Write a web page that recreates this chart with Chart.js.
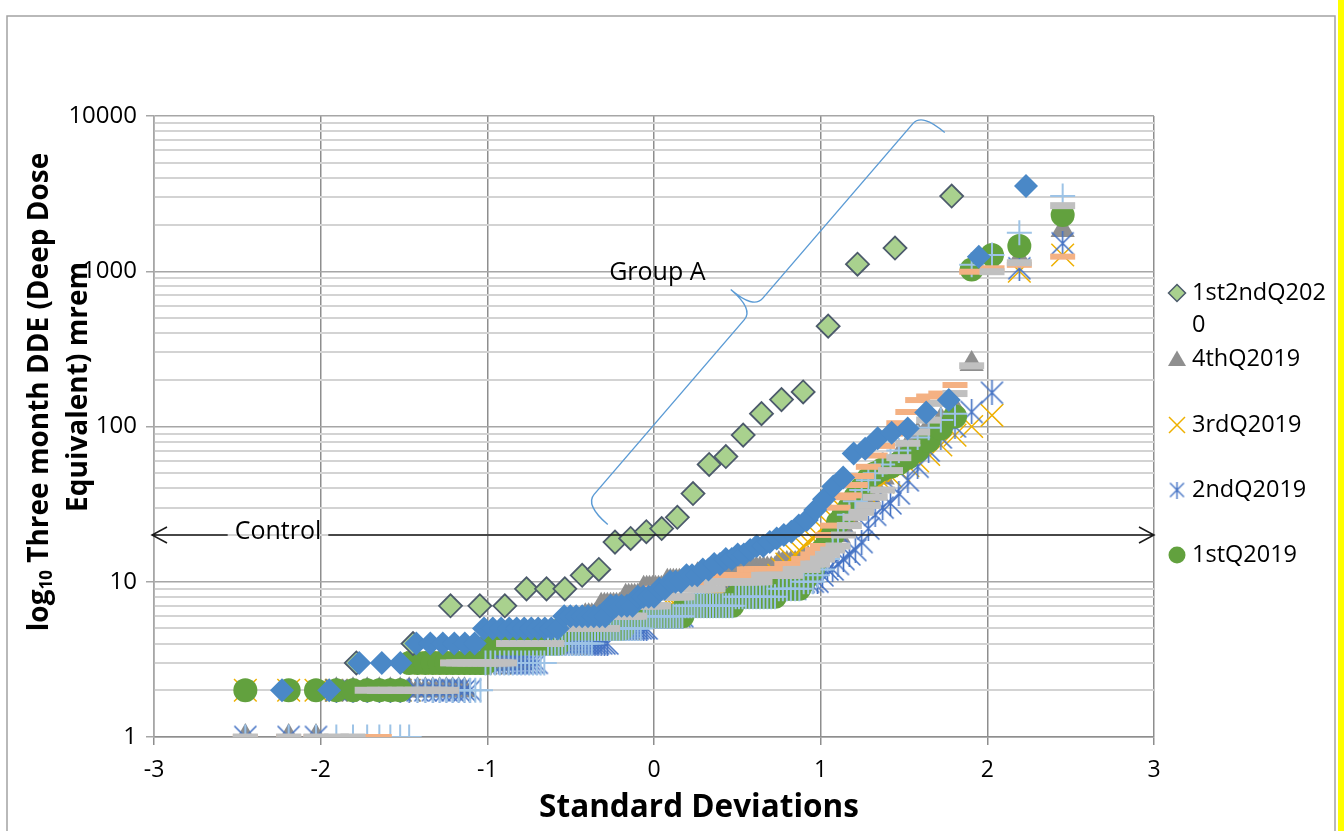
<!DOCTYPE html>
<html><head><meta charset="utf-8">
<script src="https://cdn.jsdelivr.net/npm/chart.js@4.4.1/dist/chart.umd.min.js"></script>
<style>html,body{margin:0;padding:0;background:#fff;overflow:hidden}canvas{display:block}</style>
</head><body>
<canvas id="c" width="1344" height="831"></canvas>
<script>
// ---------- DATA ----------
// normal scores (standard deviations) for the 140-point quarters
const Z140 = [
-2.452,-2.192,-2.028,-1.906,-1.806,-1.721,-1.648,-1.582,-1.523,-1.469,
-1.419,-1.372,-1.327,-1.286,-1.246,-1.208,-1.172,-1.137,-1.104,-1.072,
-1.041,-1.011,-0.981,-0.953,-0.925,-0.898,-0.872,-0.847,-0.821,-0.797,
-0.773,-0.749,-0.726,-0.703,-0.680,-0.658,-0.636,-0.614,-0.593,-0.572,
-0.551,-0.531,-0.510,-0.490,-0.470,-0.451,-0.431,-0.412,-0.392,-0.373,
-0.354,-0.336,-0.317,-0.298,-0.280,-0.261,-0.243,-0.225,-0.207,-0.188,
-0.170,-0.152,-0.134,-0.116,-0.098,-0.080,-0.062,-0.044,-0.027,-0.009,
0.009,0.027,0.044,0.062,0.080,0.098,0.116,0.134,0.152,0.170,
0.188,0.207,0.225,0.243,0.261,0.280,0.298,0.317,0.336,0.354,
0.373,0.392,0.412,0.431,0.451,0.470,0.490,0.510,0.531,0.551,
0.572,0.593,0.614,0.636,0.658,0.680,0.703,0.726,0.749,0.773,
0.797,0.821,0.847,0.872,0.898,0.925,0.953,0.981,1.011,1.041,
1.072,1.104,1.137,1.172,1.208,1.246,1.286,1.327,1.372,1.419,
1.469,1.523,1.582,1.648,1.721,1.806,1.906,2.028,2.192,2.452];

// normal scores for the 77-point series (blue diamonds)
const Z77 = [
-2.232,-1.949,-1.769,-1.633,-1.522,-1.426,-1.342,-1.267,-1.198,-1.135,
-1.076,-1.020,-0.967,-0.917,-0.869,-0.824,-0.779,-0.736,-0.695,-0.655,
-0.616,-0.577,-0.539,-0.502,-0.467,-0.431,-0.396,-0.361,-0.327,-0.293,
-0.260,-0.228,-0.195,-0.162,-0.129,-0.097,-0.064,-0.032,0.000,0.032,
0.064,0.097,0.129,0.162,0.195,0.228,0.260,0.293,0.327,0.361,
0.396,0.431,0.467,0.502,0.539,0.577,0.616,0.655,0.695,0.736,
0.779,0.824,0.869,0.917,0.967,1.020,1.076,1.135,1.198,1.267,
1.342,1.426,1.522,1.633,1.769,1.949,2.232];

// normal scores for 1st2ndQ2020 (26 points)
const Z26 = [-1.786,-1.446,-1.221,-1.045,-0.895,-0.765,-0.645,-0.535,-0.431,-0.331,
-0.234,-0.140,-0.046,0.046,0.140,0.234,0.331,0.431,0.535,0.645,
0.765,0.895,1.045,1.221,1.446,1.786];

const vals3rdQ2020 = [
2,2,3,3,3,4,4,4,4,4,
4,5,5,5,5,5,5,5,5,5,
5,5,6,6,6,6,6,6,6,6,
7,7,7,7,7,8,8,8,8,9,
9,10,10,10,11,11,11,12,12,13,
13,14,14,15,15,16,17,17,18,19,
20,21,23,25,29,34,41,47,67,72,
84,91,97,123,148,1240,3540];

const vals1st2ndQ2020 = [3,4,7,7,7,9,9,9,11,12,18,19,21,22,26,37,57,64,88,121,149,167,443,1110,1410,3050];

const vals1stQ2019 = [
2,2,2,2,2,2,2,2,2,3,
3,3,3,3,3,3,3,3,3,3,
3,3,4,4,4,4,4,4,4,4,
4,4,4,4,4,4,4,4,4,4,
5,5,5,5,5,5,5,5,5,5,
5,5,5,5,5,5,5,5,5,5,
6,6,6,6,6,6,6,6,6,6,
6,6,6,6,6,6,6,6,6,6,
7,7,7,7,7,7,7,7,7,7,
7,7,7,7,7,7,8,8,8,8,
8,8,8,8,8,8,8,8,9,9,
9,9,9,9,10,11,12,14,16,18,
20,24,27,30,35,40,46,50,53,55,
58,63,70,81,97,116,1026,1273,1455,2303];

const vals2ndQ2019 = [
1,1,1,2,2,2,2,2,2,2,
2,2,2,2,2,2,2,2,2,3,
3,3,3,3,3,3,3,3,3,3,
3,3,3,3,4,4,4,4,4,4,
4,4,4,4,4,4,4,4,4,4,
4,4,4,4,4,5,5,5,5,5,
5,5,5,5,5,5,5,5,6,6,
6,6,6,6,6,6,6,6,6,6,
7,7,7,7,7,7,7,7,7,7,
7,7,7,7,8,8,8,8,8,8,
8,8,8,8,8,9,9,9,9,9,
9,9,9,10,10,10,10,10,11,12,
12,13,14,15,16,18,22,27,30,32,
37,45,55,70,85,100,124,165,1045,1514];

const vals3rdQ2019 = [
2,2,2,2,2,2,2,2,2,2,
3,3,3,3,3,3,3,3,3,3,
3,3,3,3,3,4,4,4,4,4,
4,4,4,4,4,4,4,4,4,4,
4,4,4,4,4,5,5,5,5,5,
5,5,5,5,5,5,5,5,5,5,
5,5,6,6,6,6,6,6,6,6,
6,6,6,6,6,7,7,7,7,7,
7,7,7,7,7,7,7,7,8,8,
8,8,8,8,8,8,8,8,9,9,
9,9,9,9,10,10,10,10,11,12,
13,14,15,16,17,18,19,20,22,24,
26,28,29,30,31,33,36,40,44,48,
52,56,60,66,76,88,100,118,1000,1273];

const vals4thQ2019 = [
1,1,1,2,2,2,2,2,2,2,
2,2,2,2,2,2,2,2,3,3,
3,3,3,3,3,3,3,3,3,3,
4,4,4,4,4,4,4,4,4,4,
5,5,5,5,5,5,5,6,6,6,
6,6,7,7,7,7,7,7,7,7,
8,8,8,8,8,8,9,9,9,9,
9,9,9,9,10,10,10,10,10,10,
10,10,10,10,11,11,11,11,11,11,
11,11,11,11,11,11,11,11,12,12,
12,12,12,12,12,12,12,12,13,13,
13,13,13,13,14,14,14,14,16,16,
18,20,22,25,28,32,36,41,47,55,
64,75,88,100,110,130,253,1050,1200,1845];

const vals4thQ2018 = [
1,1,1,1,1,1,1,1,1,1,
2,2,2,2,2,2,2,2,2,2,
2,3,3,3,3,3,3,3,3,3,
3,3,3,3,3,3,4,4,4,4,
4,4,4,4,4,4,4,4,4,4,
5,5,5,5,5,5,5,5,5,5,
5,5,5,5,5,5,6,6,6,6,
6,6,6,6,6,6,6,6,6,6,
7,7,7,7,7,7,7,7,7,7,
7,7,7,7,7,7,8,8,8,8,
8,8,8,8,8,8,8,8,9,9,
9,9,9,9,10,10,10,11,12,14,
17,20,23,27,33,39,45,50,57,64,
70,76,85,98,110,121,1100,1273,1771,3054];

const vals3rdQ2018 = [
1,1,1,1,1,1,1,2,2,2,
2,2,2,2,2,3,3,3,3,3,
3,3,3,3,3,3,4,4,4,4,
4,4,4,4,4,4,4,4,5,5,
5,5,5,5,5,5,5,5,5,5,
5,5,5,5,5,6,6,6,6,6,
6,6,7,7,7,7,8,8,8,8,
9,9,9,9,9,10,10,10,10,10,
10,10,10,10,10,10,10,10,11,11,
11,11,11,11,11,11,11,11,11,11,
12,12,12,12,12,12,12,12,12,12,
13,13,13,13,14,14,15,16,17,20,
23,30,35,36,42,48,55,65,75,90,
105,124,148,156,163,185,993,1045,1100,1242];

const vals2ndQ2018 = [
1,1,1,1,1,2,2,2,2,2,
2,2,2,2,2,3,3,3,3,3,
3,3,3,3,3,3,4,4,4,4,
4,4,4,4,4,4,4,4,5,5,
5,5,5,5,5,5,5,5,5,5,
5,5,5,5,5,6,6,6,6,6,
6,6,6,6,7,7,7,7,7,7,
7,7,8,8,8,8,8,8,8,8,
9,9,9,9,9,9,9,9,9,9,
10,10,10,10,10,10,10,10,10,10,
10,10,10,10,11,11,11,11,11,11,
11,11,12,12,12,12,13,13,14,15,
16,17,20,23,26,28,31,35,39,52,
63,78,92,110,141,163,246,993,1135,2645];

const legendNames = ['1st2ndQ2020','4thQ2019','3rdQ2019','2ndQ2019','1stQ2019'];
const xTickValues = [-3,-2,-1,0,1,2,3];
const yTickValues = [1,2,3,4,5,6,7,8,9,10,20,30,40,50,60,70,80,90,100,200,300,400,500,600,700,800,900,1000,2000,3000,4000,5000,6000,7000,8000,9000,10000];

// annotations (data coordinates)
const controlLevel = 20, controlFrom = -3, controlTo = 3, controlLabelX = -2.256;
const braceStart = {x: -0.414, y: 31.2}, braceEnd = {x: 1.608, y: 10450};
const groupLabel = {x: 0.02, y: 975};

// ---------- STYLE ----------
const C = {
  blueDia: '#4A88C7', lgDia: '#A9D18E', lgDiaBorder: '#4C5A6B', green: '#62A13E',
  tri: '#8F8F8F', xGold: '#EEB000', star: '#4472C4', plus: '#9DC3E6',
  salmon: '#F4B183', gray: '#C0C0C0'
};
const FONT = '"Open Sans", "Liberation Sans", sans-serif';

function makeStar(size, color, lw) {
  const c = document.createElement('canvas'); c.width = size; c.height = size;
  const g = c.getContext('2d'); g.strokeStyle = color; g.lineWidth = lw;
  const m = 1.5, s = size;
  g.beginPath();
  g.moveTo(m, m); g.lineTo(s - m, s - m);
  g.moveTo(s - m, m); g.lineTo(m, s - m);
  g.moveTo(s / 2, 0); g.lineTo(s / 2, s);
  g.stroke();
  return c;
}
const starBig = makeStar(25, C.star, 1.6);
const starSmall = makeStar(17, C.star, 1.4);

const pts = (xs, ys) => xs.map((x, i) => ({x, y: ys[i]}));

// dataset order = drawing order (first is on top)
const datasets = [
  {label: '3rdQ2020', data: pts(Z77, vals3rdQ2020), pointStyle: 'rectRot', pointRadius: 12,
   backgroundColor: C.blueDia, borderColor: C.blueDia, pointBorderWidth: 0},
  {label: '1st2ndQ2020', data: pts(Z26, vals1st2ndQ2020), pointStyle: 'rectRot', pointRadius: 11.5,
   backgroundColor: C.lgDia, borderColor: C.lgDiaBorder, pointBorderWidth: 1.8},
  {label: '2ndQ2018', data: pts(Z140, vals2ndQ2018), pointStyle: 'line', pointRadius: 12.5,
   backgroundColor: C.gray, borderColor: C.gray, pointBorderWidth: 7},
  {label: '3rdQ2018', data: pts(Z140, vals3rdQ2018), pointStyle: 'line', pointRadius: 12.5,
   backgroundColor: C.salmon, borderColor: C.salmon, pointBorderWidth: 6},
  {label: '4thQ2018', data: pts(Z140, vals4thQ2018), pointStyle: 'cross', pointRadius: 12.5,
   backgroundColor: C.plus, borderColor: C.plus, pointBorderWidth: 2},
  {label: '1stQ2019', data: pts(Z140, vals1stQ2019), pointStyle: 'circle', pointRadius: 12,
   backgroundColor: C.green, borderColor: C.green, pointBorderWidth: 0},
  {label: '2ndQ2019', data: pts(Z140, vals2ndQ2019), pointStyle: starBig, pointRadius: 12,
   backgroundColor: C.star, borderColor: C.star},
  {label: '3rdQ2019', data: pts(Z140, vals3rdQ2019), pointStyle: 'crossRot', pointRadius: 16,
   backgroundColor: C.xGold, borderColor: C.xGold, pointBorderWidth: 1.5},
  {label: '4thQ2019', data: pts(Z140, vals4thQ2019), pointStyle: 'triangle', pointRadius: 14,
   backgroundColor: C.tri, borderColor: C.tri, pointBorderWidth: 0}
];

const isMajor = v => Math.abs(Math.log10(v) - Math.round(Math.log10(v))) < 1e-9;

function drawLegendMarker(ctx, kind, x, y) {
  ctx.save();
  if (kind === 0) {
    ctx.beginPath(); ctx.moveTo(x - 8.5, y); ctx.lineTo(x, y - 8.5); ctx.lineTo(x + 8.5, y); ctx.lineTo(x, y + 8.5); ctx.closePath();
    ctx.fillStyle = C.lgDia; ctx.fill(); ctx.strokeStyle = C.lgDiaBorder; ctx.lineWidth = 1.5; ctx.stroke();
  } else if (kind === 1) {
    ctx.beginPath(); ctx.moveTo(x, y - 8.5); ctx.lineTo(x + 9, y + 7); ctx.lineTo(x - 9, y + 7); ctx.closePath();
    ctx.fillStyle = C.tri; ctx.fill();
  } else if (kind === 2) {
    ctx.beginPath(); ctx.moveTo(x - 8, y - 8); ctx.lineTo(x + 8, y + 8); ctx.moveTo(x + 8, y - 8); ctx.lineTo(x - 8, y + 8);
    ctx.strokeStyle = C.xGold; ctx.lineWidth = 1.5; ctx.stroke();
  } else if (kind === 3) {
    ctx.drawImage(starSmall, x - 8.5, y - 8.5);
  } else {
    ctx.beginPath(); ctx.arc(x, y, 8.5, 0, Math.PI * 2); ctx.fillStyle = C.green; ctx.fill();
  }
  ctx.restore();
}

function drawRotatedParts(ctx, cx, cy, parts) {
  ctx.save();
  ctx.translate(cx, cy); ctx.rotate(-Math.PI / 2);
  ctx.textBaseline = 'middle'; ctx.textAlign = 'left'; ctx.fillStyle = '#000';
  let total = 0;
  parts.forEach(p => { ctx.font = p.font; p.w = ctx.measureText(p.t).width; total += p.w; });
  let x = -total / 2;
  parts.forEach(p => { ctx.font = p.font; ctx.fillText(p.t, x, p.dy || 0); x += p.w; });
  ctx.restore();
}

const decor = {
  id: 'decor',
  beforeDraw(chart) {
    const ctx = chart.ctx;
    ctx.save();
    ctx.fillStyle = '#fff'; ctx.fillRect(0, 0, chart.width, chart.height);
    ctx.fillStyle = '#FFFF00'; ctx.fillRect(1338, 0, 6, chart.height);
    ctx.strokeStyle = '#A3A3A3'; ctx.lineWidth = 1.5;
    ctx.beginPath(); ctx.moveTo(7, chart.height); ctx.lineTo(7, 16); ctx.lineTo(1335, 16); ctx.lineTo(1335, chart.height); ctx.stroke();
    ctx.restore();
  },
  afterDatasetsDraw(chart) {
    const ctx = chart.ctx, xs = chart.scales.x, ys = chart.scales.y;
    ctx.save();
    // Control double arrow
    const yC = ys.getPixelForValue(controlLevel);
    const x0 = xs.getPixelForValue(controlFrom) - 2, x1 = xs.getPixelForValue(controlTo);
    ctx.font = '25px ' + FONT;
    const lw = ctx.measureText('Control').width;
    const lx = xs.getPixelForValue(controlLabelX);
    ctx.strokeStyle = '#1a1a1a'; ctx.lineWidth = 1.5;
    ctx.beginPath();
    ctx.moveTo(x0, yC); ctx.lineTo(lx - lw / 2 - 7, yC);
    ctx.moveTo(lx + lw / 2 + 7, yC); ctx.lineTo(x1, yC);
    ctx.moveTo(x0 + 15, yC - 8); ctx.lineTo(x0, yC); ctx.lineTo(x0 + 15, yC + 8);
    ctx.moveTo(x1 - 15, yC - 8); ctx.lineTo(x1, yC); ctx.lineTo(x1 - 15, yC + 8);
    ctx.stroke();
    ctx.fillStyle = '#000'; ctx.textAlign = 'center'; ctx.textBaseline = 'middle';
    ctx.fillText('Control', lx, yC - 3);

    // Group A brace
    const ax = xs.getPixelForValue(braceStart.x), ay = ys.getPixelForValue(braceStart.y);
    const bx = xs.getPixelForValue(braceEnd.x), by = ys.getPixelForValue(braceEnd.y);
    const L = Math.hypot(bx - ax, by - ay);
    const ux = (bx - ax) / L, uy = (by - ay) / L;
    const vx = uy, vy = -ux; // perpendicular toward upper-left
    const h = 30, r = 14;
    const P = (u, v) => [ax + u * ux + v * vx, ay + u * uy + v * vy];
    ctx.strokeStyle = '#5B9BD5'; ctx.lineWidth = 1.4;
    ctx.beginPath();
    ctx.moveTo(...P(0, -h));
    ctx.quadraticCurveTo(...P(0, 0), ...P(r, 0));
    ctx.lineTo(...P(L / 2 - r, 0));
    ctx.quadraticCurveTo(...P(L / 2, 0), ...P(L / 2, h));
    ctx.quadraticCurveTo(...P(L / 2, 0), ...P(L / 2 + r, 0));
    ctx.lineTo(...P(L - r, 0));
    ctx.quadraticCurveTo(...P(L, 0), ...P(L, -h));
    ctx.stroke();
    ctx.fillStyle = '#000'; ctx.font = '25px ' + FONT; ctx.textAlign = 'center';
    ctx.fillText('Group A', xs.getPixelForValue(groupLabel.x), ys.getPixelForValue(groupLabel.y));
    ctx.restore();
  },
  afterDraw(chart) {
    const ctx = chart.ctx;
    ctx.save();
    // legend
    const LX = 1177, TX = 1192, LY = [293, 359, 425, 490, 555];
    ctx.font = '23.5px ' + FONT; ctx.fillStyle = '#000'; ctx.textBaseline = 'middle'; ctx.textAlign = 'left';
    legendNames.forEach((name, i) => {
      drawLegendMarker(ctx, i, LX, LY[i]);
      if (i === 0) { ctx.fillText(name.slice(0, -1), TX, LY[i]); ctx.fillText(name.slice(-1), TX, LY[i] + 32); }
      else ctx.fillText(name, TX, LY[i]);
    });
    // x axis title
    ctx.font = 'bold 31.5px ' + FONT; ctx.textAlign = 'center';
    ctx.fillText('Standard Deviations', 699, 808);
    ctx.restore();
    // y axis title (two lines, rotated)
    const big = 'bold 28px ' + FONT, small = 'bold 17px ' + FONT;
    drawRotatedParts(ctx, 40, 392, [{t: 'log', font: big}, {t: '10', font: small, dy: 7}, {t: ' Three month DDE (Deep Dose', font: big}]);
    drawRotatedParts(ctx, 79, 387, [{t: 'Equivalent) mrem', font: big}]);
  }
};

new Chart(document.getElementById('c'), {
  type: 'scatter',
  data: {datasets},
  options: {
    responsive: false, animation: false, devicePixelRatio: 1,
    layout: {padding: {top: 116, right: 190, left: 0, bottom: 0}},
    plugins: {legend: {display: false}, tooltip: {enabled: false}},
    events: [],
    scales: {
      x: {
        type: 'linear', min: -3, max: 3,
        afterBuildTicks: s => { s.ticks = xTickValues.map(v => ({value: v})); },
        afterFit: s => { s.height = 94; },
        ticks: {autoSkip: false, padding: 12, color: '#000', font: {family: FONT, size: 23}, callback: v => String(v)},
        grid: {color: '#8E8E8E', lineWidth: 1.5, tickLength: 8, tickColor: '#8E8E8E'},
        border: {color: '#8E8E8E', width: 1.5}
      },
      y: {
        type: 'logarithmic', min: 1, max: 10000,
        afterBuildTicks: s => { s.ticks = yTickValues.map(v => ({value: v, major: isMajor(v)})); },
        afterFit: s => { s.width = 154; },
        ticks: {autoSkip: false, padding: 9, color: '#000', font: {family: FONT, size: 24},
                callback: v => isMajor(v) ? String(v) : ''},
        grid: {
          color: c => isMajor(c.tick.value) ? '#A6A6A6' : '#D3D3D3',
          lineWidth: c => isMajor(c.tick.value) ? 1.5 : 2,
          tickLength: 8,
          tickColor: c => isMajor(c.tick.value) ? '#A6A6A6' : 'rgba(0,0,0,0)'
        },
        border: {color: '#A6A6A6', width: 1.5}
      }
    }
  },
  plugins: [decor]
});
</script>
</body></html>
